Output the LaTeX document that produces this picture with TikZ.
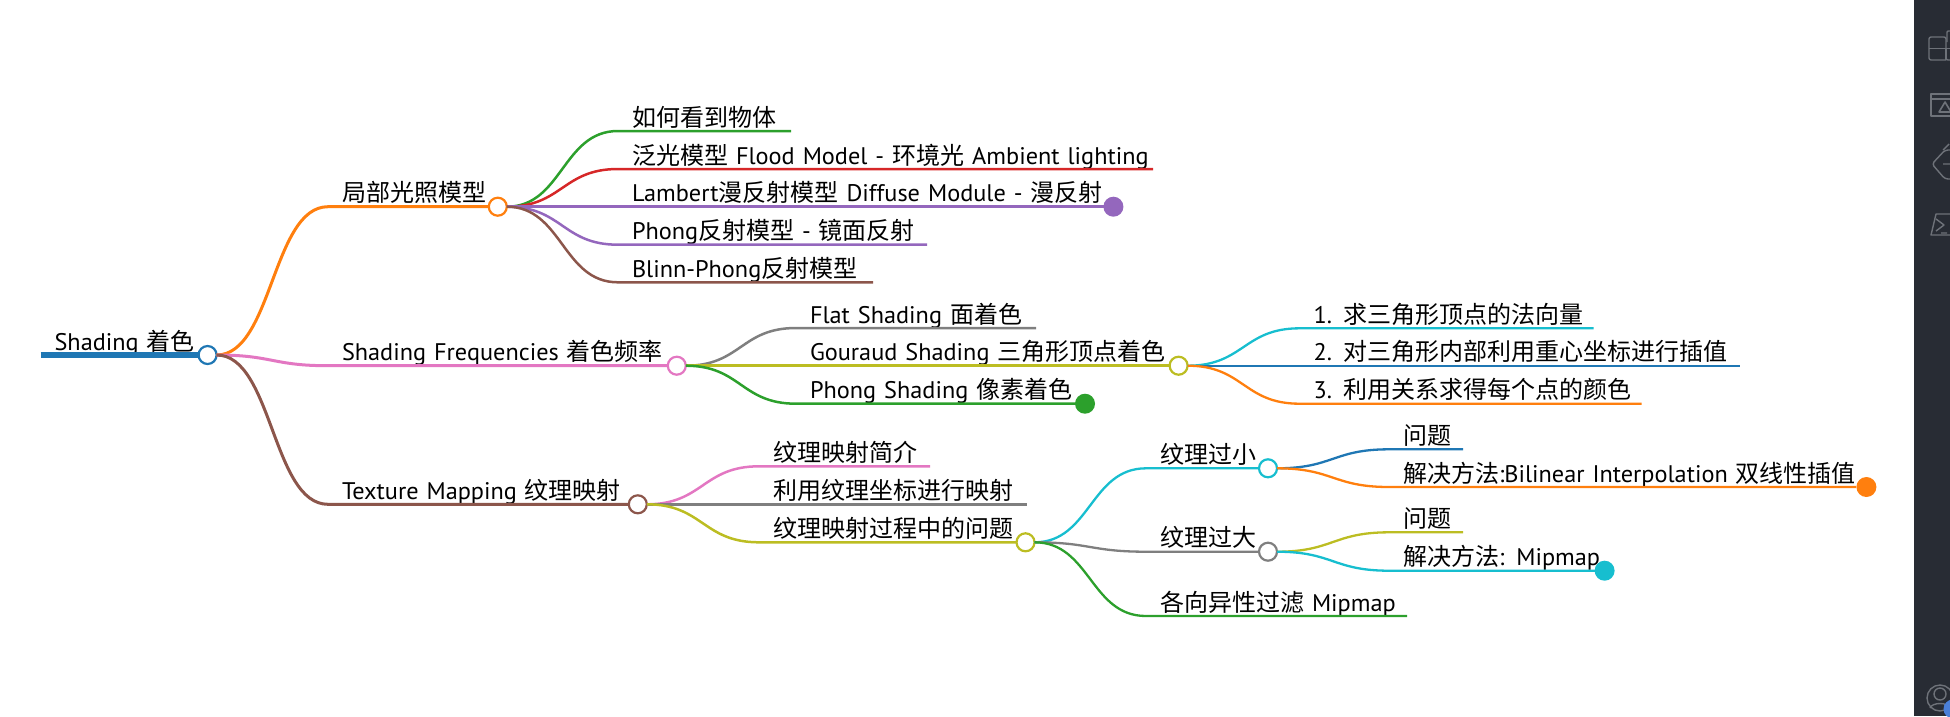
\documentclass[tikz,border=0pt]{standalone}
\usepackage{fontspec}
\setmainfont[WordSpace=0.7,FakeStretch=1.012]{PT Sans}
\newfontfamily\cjk{Noto Sans CJK SC}
\usetikzlibrary{calc}
\definecolor{cblue}{HTML}{1F77B4}
\definecolor{corange}{HTML}{FF7F0E}
\definecolor{cgreen}{HTML}{2CA02C}
\definecolor{cred}{HTML}{D62728}
\definecolor{cpurple}{HTML}{9467BD}
\definecolor{cbrown}{HTML}{8C564B}
\definecolor{cpink}{HTML}{E377C2}
\definecolor{cgray}{HTML}{7F7F7F}
\definecolor{colive}{HTML}{BCBD22}
\definecolor{ccyan}{HTML}{17BECF}
\definecolor{sidebar}{HTML}{282C34}
\definecolor{sideicon}{HTML}{6E7279}
\definecolor{badge}{HTML}{4A7FD8}
\newcommand{\zh}[1]{{\cjk #1}}
% curve from a fold to the start of a topic, then along under its text
\newcommand{\branch}[4][2.3pt]{\draw[#2,line width=#1] (#3.east) .. controls ($(#3.east)!.5!(#4.south west |- #3.east)$) and ($(#4.south west)!.5!(#3.east |- #4.south west)$) .. (#4.south west) -- (#4.south east);}
\tikzset{
	topic/.style={anchor=south west,inner xsep=0pt,inner ysep=0pt,outer sep=0pt,text height=24pt,text depth=5pt,text width=#1pt,font=\fontsize{24}{26}\selectfont,execute at begin node={\leavevmode\hspace*{14pt}\hbox\bgroup},execute at end node={\egroup}},
	fold/.style={circle,draw=#1,fill=white,line width=2.2pt,inner sep=0pt,minimum size=18pt,outer sep=0pt},
	dot/.style={circle,fill=#1,inner sep=0pt,minimum size=20pt,outer sep=0pt},
	icon/.style={draw=sideicon,line width=1.4pt,line join=round},
}
\begin{document}
\begin{tikzpicture}[x=1pt,y=-1pt]
	\useasboundingbox (0,0) rectangle (1950,716);
	\fill[sidebar] (1914,0) rectangle (1950,716);

	% side bar icons
	\begin{scope}
	\clip (1914,0) rectangle (1950,716);
	\draw[icon,rounded corners=2pt] (1946,60) -- (1929,60) -- (1929,37) -- (1946,37) -- (1946,60) -- (1960,60);
	\draw[icon] (1929,48.5) -- (1960,48.5) (1946,48.5) -- (1946,60);
	\draw[icon,rounded corners=1pt] (1947,42) -- (1947,31) -- (1960,31);
	\draw[icon] (1960,94) -- (1931,94) -- (1931,116) -- (1960,116) (1931,99) -- (1960,99);
	\draw[icon,line width=1.6pt] (1939,112) -- (1945,102) -- (1951,112) -- cycle;
	\draw[icon,rounded corners=3pt] (1960,150) -- (1945,150) -- (1932,164) -- (1945,179) -- (1960,179);
	\draw[icon] (1943,150) -- (1949,144) (1943,164) -- (1960,164);
	\draw[icon] (1960,214) -- (1936,214) -- (1931,235) -- (1960,235);
	\draw[icon] (1936,219) -- (1944,225) -- (1936,231) (1941,233) -- (1947,233);
	\draw[icon] (1940,698) circle (13pt);
	\draw[icon] (1940,694) circle (6pt);
	\draw[icon] (1930,708) .. controls (1932,702) and (1948,702) .. (1950,708);
	\fill[badge] (1953,709) circle (9.5pt);
	\end{scope}

	% topics
	\node[topic=158,text depth=4.5pt] (shading) at (40.6,355) {Shading \zh{着色}};
	\node[topic=160] (local) at (328,206.7) {\zh{局部光照模型}};
	\node[topic=339] (freq) at (328,365.7) {Shading Frequencies \zh{着色频率}};
	\node[topic=300] (texture) at (328,504.3) {Texture Mapping \zh{纹理映射}};

	\node[topic=173] (see) at (618,131) {\zh{如何看到物体}};
	\node[topic=535] (flood) at (618,169) {\zh{泛光模型} Flood Model - \zh{环境光} Ambient lighting};
	\node[topic=490] (lambert) at (618,206.7) {Lambert\zh{漫反射模型} Diffuse Module - \zh{漫反射}};
	\node[topic=309] (phong) at (618,244.7) {Phong\zh{反射模型} - \zh{镜面反射}};
	\node[topic=255] (blinn) at (618,282.3) {Blinn-Phong\zh{反射模型}};

	\node[topic=240] (flat) at (796,328) {Flat Shading \zh{面着色}};
	\node[topic=374] (gouraud) at (796,365.7) {Gouraud Shading \zh{三角形顶点着色}};
	\node[topic=280] (phongsh) at (796,403.7) {Phong Shading \zh{像素着色}};

	\node[topic=294] (normal) at (1299.5,328.3) {1. \zh{求三角形顶点的法向量}};
	\node[topic=440] (bary) at (1299.5,365.7) {2. \zh{对三角形内部利用重心坐标进行插值}};
	\node[topic=342] (color) at (1299.5,403.7) {3. \zh{利用关系求得每个点的颜色}};

	\node[topic=171] (intro) at (759,466.3) {\zh{纹理映射简介}};
	\node[topic=268] (coord) at (759,504.3) {\zh{利用纹理坐标进行映射}};
	\node[topic=258] (problem) at (759,542.3) {\zh{纹理映射过程中的问题}};

	\node[topic=113] (small) at (1146,468.3) {\zh{纹理过小}};
	\node[topic=113] (large) at (1146,551.7) {\zh{纹理过大}};
	\node[topic=261] (aniso) at (1146,616) {\zh{各向异性过滤} Mipmap};

	\node[topic=74] (smallq) at (1389,449.3) {\zh{问题}};
	\node[topic=467] (smalla) at (1389,487) {\zh{解决方法}:Bilinear Interpolation \zh{双线性插值}};
	\node[topic=74] (largeq) at (1389,532.3) {\zh{问题}};
	\node[topic=206] (largea) at (1389,570.7) {\zh{解决方法}: Mipmap};

	% folds and end dots
	\node[fold=cblue] (shadingf) at (207.6,355) {};
	\node[fold=corange] (localf) at (497.8,206.7) {};
	\node[fold=cpink] (freqf) at (676.8,365.7) {};
	\node[fold=cbrown] (texturef) at (637.8,504.3) {};
	\node[fold=colive] (gouraudf) at (1178.6,365.7) {};
	\node[fold=colive] (problemf) at (1025.5,542.3) {};
	\node[fold=ccyan] (smallf) at (1268,468.3) {};
	\node[fold=cgray] (largef) at (1268,551.7) {};
	\node[dot=cpurple] (lambertd) at (1113.4,206.7) {};
	\node[dot=cgreen] (phongshd) at (1085,403.7) {};
	\node[dot=corange] (smallad) at (1866.4,487) {};
	\node[dot=ccyan] (largead) at (1604.6,570.7) {};

	% connectors
	\draw[cblue,line width=6pt] (shading.south west) -- (shading.south east);
	\branch[3pt]{corange}{shadingf}{local}
	\branch[3pt]{cpink}{shadingf}{freq}
	\branch[3pt]{cbrown}{shadingf}{texture}
	\branch[2.5pt]{cgreen}{localf}{see}
	\branch[2.5pt]{cred}{localf}{flood}
	\branch[2.5pt]{cpurple}{localf}{lambert}
	\branch[2.5pt]{cpurple}{localf}{phong}
	\branch[2.5pt]{cbrown}{localf}{blinn}
	\branch[2.5pt]{cgray}{freqf}{flat}
	\branch[2.5pt]{colive}{freqf}{gouraud}
	\branch[2.5pt]{cgreen}{freqf}{phongsh}
	\branch{ccyan}{gouraudf}{normal}
	\branch{cblue}{gouraudf}{bary}
	\branch{corange}{gouraudf}{color}
	\branch[2.5pt]{cpink}{texturef}{intro}
	\branch[2.5pt]{cgray}{texturef}{coord}
	\branch[2.5pt]{colive}{texturef}{problem}
	\branch{ccyan}{problemf}{small}
	\branch{cgray}{problemf}{large}
	\branch{cgreen}{problemf}{aniso}
	\branch{cblue}{smallf}{smallq}
	\branch{corange}{smallf}{smalla}
	\branch{colive}{largef}{largeq}
	\branch{ccyan}{largef}{largea}
\end{tikzpicture}
\end{document}
